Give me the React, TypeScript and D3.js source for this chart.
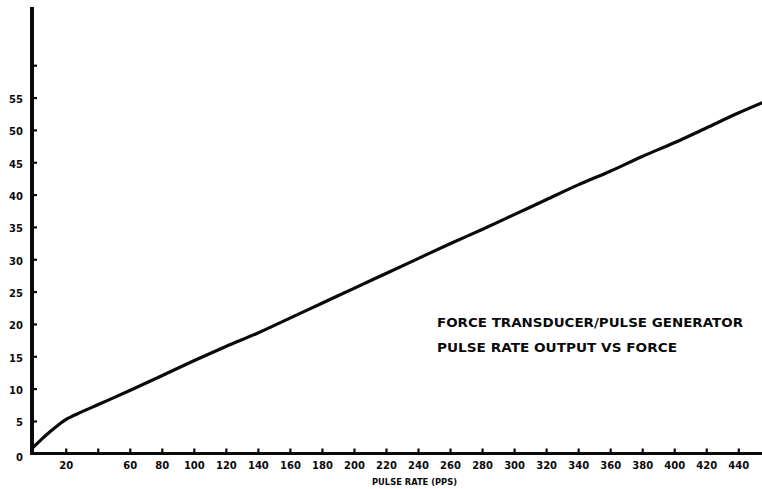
import React, { useEffect, useRef } from 'react';
import * as d3 from 'd3';

// pulse rate (pps) vs force
const pulseRate = [0, 5, 10, 15, 20, 30, 40, 60, 80, 100, 120, 140, 160, 180, 200, 220, 240, 260, 280, 300, 320, 340, 360, 380, 400, 420, 440, 455];
const force = [1.0, 2.2, 3.3, 4.3, 5.2, 6.4, 7.5, 9.7, 12.0, 14.3, 16.5, 18.6, 20.9, 23.2, 25.5, 27.8, 30.1, 32.4, 34.6, 36.9, 39.2, 41.5, 43.6, 45.9, 48.0, 50.3, 52.6, 54.2];

const yTicks = [0, 5, 10, 15, 20, 25, 30, 35, 40, 45, 50, 55, 60];
const yUnlabeled = [60];
const xTicks = [20, 40, 60, 80, 100, 120, 140, 160, 180, 200, 220, 240, 260, 280, 300, 320, 340, 360, 380, 400, 420, 440];
const xUnlabeled = [40];

const xTitle = 'PULSE RATE (PPS)';
const note1 = 'FORCE TRANSDUCER/PULSE GENERATOR';
const note2 = 'PULSE RATE OUTPUT VS FORCE';

const W = 762;
const H = 489;
const FONT = '"DejaVu Sans", sans-serif';

const App = () => {
  const ref = useRef<SVGSVGElement | null>(null);

  useEffect(() => {
    const svg = d3.select(ref.current);
    svg.selectAll('*').remove();

    const x = d3.scaleLinear().domain([0, 455]).range([33.7, 762.3]);
    const y = d3.scaleLinear().domain([0, 69]).range([453.3, 7]);
    const axisX = 32;
    const axisY = 453.5;

    const ink = '#0a0a0a';

    // x axis
    const gx = svg.append('g').attr('transform', `translate(0,${axisY})`);
    gx.call(
      d3.axisBottom(x)
        .tickValues(xTicks)
        .tickSizeInner(-5)
        .tickSizeOuter(0)
        .tickPadding(8)
        .tickFormat(d => (xUnlabeled.includes(+d) ? '' : String(d)))
    );
    gx.select('.domain').remove();
    gx.selectAll('.tick line').attr('stroke', ink).attr('stroke-width', 2.2);
    gx.selectAll('.tick text')
      .attr('fill', ink)
      .attr('font-family', FONT)
      .attr('font-weight', 'bold')
      .attr('font-size', 10);
    gx.append('line')
      .attr('x1', axisX - 2).attr('x2', W)
      .attr('y1', 0).attr('y2', 0)
      .attr('stroke', ink).attr('stroke-width', 3);

    // y axis
    const gy = svg.append('g').attr('transform', `translate(${axisX},0)`);
    gy.call(
      d3.axisLeft(y)
        .tickValues(yTicks)
        .tickSizeInner(-5)
        .tickSizeOuter(0)
        .tickPadding(9)
        .tickFormat(d => (yUnlabeled.includes(+d) ? '' : String(d)))
    );
    gy.select('.domain').remove();
    gy.selectAll('.tick line').attr('stroke', ink).attr('stroke-width', 2.2);
    gy.selectAll('.tick text')
      .attr('fill', ink)
      .attr('font-family', FONT)
      .attr('font-weight', 'bold')
      .attr('font-size', 10)
      .attr('dy', (d: any) => (+d === 0 ? '0.75em' : '0.5em'));
    gy.append('line')
      .attr('x1', 0).attr('x2', 0)
      .attr('y1', y(69)).attr('y2', axisY + 1.5)
      .attr('stroke', ink).attr('stroke-width', 4);

    // the curve
    const pts: [number, number][] = pulseRate.map((p, i) => [p, force[i]]);
    const line = d3.line<[number, number]>()
      .x(d => x(d[0]))
      .y(d => y(d[1]))
      .curve(d3.curveMonotoneX);
    svg.append('path')
      .datum(pts)
      .attr('d', line)
      .attr('fill', 'none')
      .attr('stroke', ink)
      .attr('stroke-width', 3.2)
      .attr('stroke-linecap', 'round');

    // axis title
    svg.append('text')
      .attr('x', 372).attr('y', 485)
      .attr('textLength', 85)
      .attr('lengthAdjust', 'spacingAndGlyphs')
      .attr('font-family', FONT)
      .attr('font-weight', 'bold')
      .attr('font-size', 8.5)
      .attr('fill', ink)
      .text(xTitle);

    // note, wide heavy lettering as in the scan
    const note = (txt: string, yy: number, len: number) =>
      svg.append('text')
        .attr('x', 437).attr('y', yy)
        .attr('textLength', len)
        .attr('lengthAdjust', 'spacingAndGlyphs')
        .attr('font-family', FONT)
        .attr('font-weight', 'bold')
        .attr('font-size', 11.5)
        .attr('fill', ink)
        .text(txt);
    note(note1, 326.5, 306);
    note(note2, 351.5, 240);
  }, []);

  return (
    <svg
      ref={ref}
      width={W}
      height={H}
      style={{ position: 'absolute', left: 0, top: 0, background: '#fff' }}
    />
  );
};

export default App;
